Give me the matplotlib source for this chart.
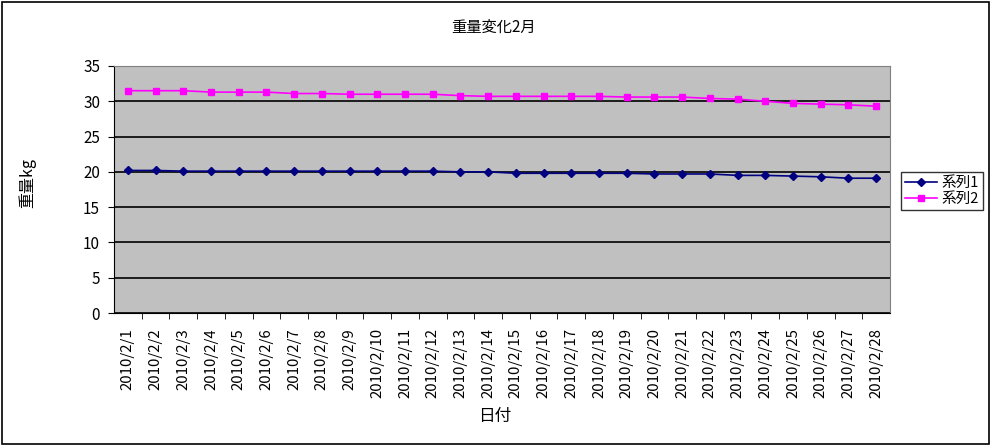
import matplotlib
matplotlib.use("Agg")
import matplotlib.pyplot as plt
from matplotlib.patches import Rectangle

plt.rcParams['font.family'] = ['Noto Sans CJK JP', 'DejaVu Sans']

dates = ["2010/2/%d" % d for d in range(1, 29)]
series1 = [20.2, 20.2, 20.1, 20.1, 20.1, 20.1, 20.1, 20.1, 20.1, 20.1, 20.1, 20.1, 20.0, 20.0,
           19.8, 19.8, 19.8, 19.8, 19.8, 19.7, 19.7, 19.7, 19.5, 19.5, 19.4, 19.3, 19.1, 19.1]
series2 = [31.5, 31.5, 31.5, 31.3, 31.3, 31.3, 31.1, 31.1, 31.0, 31.0, 31.0, 31.0, 30.8, 30.7,
           30.7, 30.7, 30.7, 30.7, 30.6, 30.6, 30.6, 30.4, 30.3, 30.0, 29.7, 29.6, 29.5, 29.3]
yticks = [0, 5, 10, 15, 20, 25, 30, 35]

W, H = 991, 446
fig = plt.figure(figsize=(W / 100, H / 100), dpi=100)
fig.patches.append(Rectangle((2 / W, 2 / H), 1 - 4 / W, 1 - 4 / H, transform=fig.transFigure,
                             fill=False, edgecolor='black', linewidth=1.2))

ax = fig.add_axes([114 / W, 1 - 313 / H, (890 - 114) / W, (313 - 66) / H])
ax.set_facecolor('#C0C0C0')
x = list(range(len(dates)))
ax.plot(x, series1, color='#000080', marker='D', markersize=4, linewidth=1.2, label='系列1')
ax.plot(x, series2, color='#FF00FF', marker='s', markersize=5, linewidth=1.2, label='系列2')

ax.set_xlim(-0.5, len(dates) - 0.5)
ax.set_ylim(0, 35)
ax.set_yticks(yticks)
ax.yaxis.grid(True, color='black', linewidth=1.2)
ax.set_axisbelow(True)
ax.set_xticks(x)
ax.set_xticklabels(dates, rotation=90, fontsize=10.8)
ax.set_xticks([i - 0.5 for i in range(1, len(dates))], minor=True)
ax.tick_params(axis='x', which='major', length=0, pad=11)
ax.tick_params(axis='x', which='minor', length=4, direction='out')
ax.tick_params(axis='y', labelsize=11, length=4, direction='out', pad=6)
for s in ['top', 'right']:
    ax.spines[s].set_color('#808080')
ax.spines['left'].set_color('black')
ax.spines['bottom'].set_color('black')

fig.text(494 / W, 1 - 27 / H, '重量変化2月', ha='center', va='center', fontsize=11)
fig.text(27 / W, 1 - 183 / H, '重量kg', ha='center', va='center', rotation=90, fontsize=11.5)
fig.text(495 / W, 1 - 416 / H, '日付', ha='center', va='center', fontsize=12)

leg = fig.legend(loc='center', bbox_to_anchor=(942 / W, 1 - 191 / H), fontsize=10.5,
                 frameon=True, fancybox=False, edgecolor='black', handlelength=2.2,
                 borderpad=0.3, labelspacing=0.1, handletextpad=0.3, borderaxespad=0)
leg.get_frame().set_linewidth(1.0)

fig.savefig('out.png', dpi=100)
